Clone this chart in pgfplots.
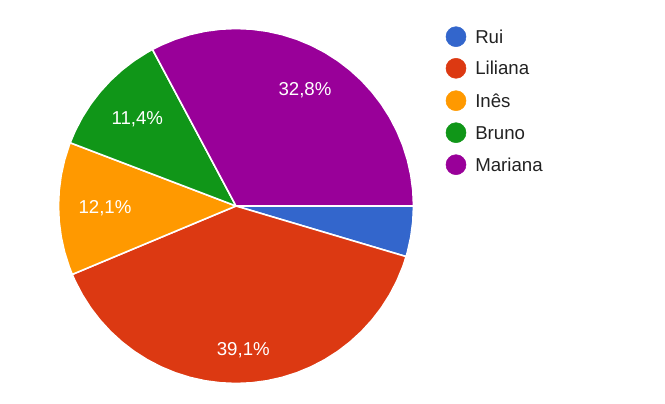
\documentclass[border=0pt]{standalone}
\usepackage{pgfplots}
\pgfplotsset{compat=1.18}
\usepgfplotslibrary{polar}
\usepackage{fontspec}
\setmainfont{Liberation Sans}
\definecolor{cRui}{HTML}{3366CC}
\definecolor{cLil}{HTML}{DC3912}
\definecolor{cIne}{HTML}{FF9900}
\definecolor{cBru}{HTML}{109618}
\definecolor{cMar}{HTML}{990099}
\definecolor{txt}{HTML}{222222}
\begin{document}
\begin{tikzpicture}
\begin{axis}[
  scale only axis, width=498.75pt, height=303pt,
  xmin=-236, xmax=429, ymin=-198, ymax=206,
  hide axis, clip=false,
  every axis plot/.append style={line join=round},
]
\path (axis cs:-236,-198) rectangle (axis cs:429,206);
% Rui 4.6 %
\addplot[fill=cRui, draw=white, line width=1.2pt, data cs=polar] coordinates {
(0,0) (0,177.5) (-5,177.5) (-10,177.5) (-15,177.5) (-16.56,177.5) (0,0)};
% Liliana 39.1 %
\addplot[fill=cLil, draw=white, line width=1.2pt, data cs=polar] coordinates {
(0,0) (-16.56,177.5) (-20,177.5) (-25,177.5) (-30,177.5) (-35,177.5) (-40,177.5)
(-45,177.5) (-50,177.5) (-55,177.5) (-60,177.5) (-65,177.5) (-70,177.5) (-75,177.5)
(-80,177.5) (-85,177.5) (-90,177.5) (-95,177.5) (-100,177.5) (-105,177.5) (-110,177.5)
(-115,177.5) (-120,177.5) (-125,177.5) (-130,177.5) (-135,177.5) (-140,177.5)
(-145,177.5) (-150,177.5) (-155,177.5) (-157.32,177.5) (0,0)};
% Ines 12.1 %
\addplot[fill=cIne, draw=white, line width=1.2pt, data cs=polar] coordinates {
(0,0) (-157.32,177.5) (-160,177.5) (-165,177.5) (-170,177.5) (-175,177.5) (-180,177.5)
(-185,177.5) (-190,177.5) (-195,177.5) (-200,177.5) (-200.88,177.5) (0,0)};
% Bruno 11.4 %
\addplot[fill=cBru, draw=white, line width=1.2pt, data cs=polar] coordinates {
(0,0) (-200.88,177.5) (-205,177.5) (-210,177.5) (-215,177.5) (-220,177.5) (-225,177.5)
(-230,177.5) (-235,177.5) (-240,177.5) (-241.92,177.5) (0,0)};
% Mariana 32.8 %
\addplot[fill=cMar, draw=white, line width=1.2pt, data cs=polar] coordinates {
(0,0) (-241.92,177.5) (-245,177.5) (-250,177.5) (-255,177.5) (-260,177.5) (-265,177.5)
(-270,177.5) (-275,177.5) (-280,177.5) (-285,177.5) (-290,177.5) (-295,177.5)
(-300,177.5) (-305,177.5) (-310,177.5) (-315,177.5) (-320,177.5) (-325,177.5)
(-330,177.5) (-335,177.5) (-340,177.5) (-345,177.5) (-350,177.5) (-355,177.5)
(-360,177.5) (0,0)};
% slice labels
\node[text=white, font=\fontsize{14}{16}\selectfont] at (axis cs:69,116) {32,8\%};
\node[text=white, font=\fontsize{14}{16}\selectfont] at (axis cs:-98.7,86.7) {11,4\%};
\node[text=white, font=\fontsize{14}{16}\selectfont] at (axis cs:-131,-2) {12,1\%};
\node[text=white, font=\fontsize{14}{16}\selectfont] at (axis cs:7.3,-144) {39,1\%};
% legend
\addplot[only marks, mark=*, mark size=7.5pt, color=cRui] coordinates {(220,169.3)};
\addplot[only marks, mark=*, mark size=7.5pt, color=cLil] coordinates {(220,137.7)};
\addplot[only marks, mark=*, mark size=7.5pt, color=cIne] coordinates {(220,105.3)};
\addplot[only marks, mark=*, mark size=7.5pt, color=cBru] coordinates {(220,73.3)};
\addplot[only marks, mark=*, mark size=7.5pt, color=cMar] coordinates {(220,41.3)};
\node[anchor=west, inner sep=0pt, text=txt, font=\fontsize{14}{16}\selectfont] at (axis cs:239,169.3) {Rui};
\node[anchor=west, inner sep=0pt, text=txt, font=\fontsize{14}{16}\selectfont] at (axis cs:239,137.7) {Liliana};
\node[anchor=west, inner sep=0pt, text=txt, font=\fontsize{14}{16}\selectfont] at (axis cs:239,105.3) {Inês};
\node[anchor=west, inner sep=0pt, text=txt, font=\fontsize{14}{16}\selectfont] at (axis cs:239,73.3) {Bruno};
\node[anchor=west, inner sep=0pt, text=txt, font=\fontsize{14}{16}\selectfont] at (axis cs:239,41.3) {Mariana};
\end{axis}
\end{tikzpicture}
\end{document}
